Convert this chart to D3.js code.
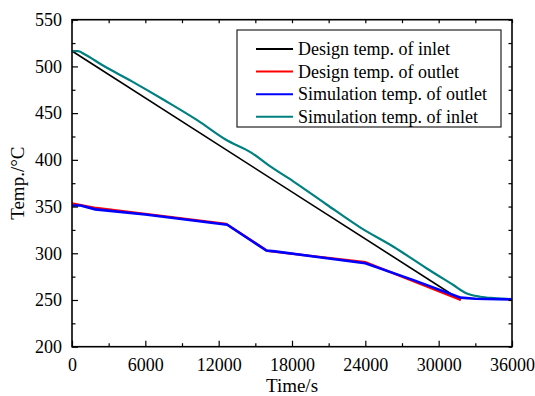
<!DOCTYPE html>
<html>
<head>
<meta charset="utf-8">
<script src="https://cdn.jsdelivr.net/npm/d3@7/dist/d3.min.js"></script>
<style>
  html, body { margin: 0; padding: 0; background: #fff; }
  svg { display: block; }
  text { font-family: "Liberation Serif", "Times New Roman", serif; fill: #000; }
</style>
</head>
<body>
<svg id="chart" width="535" height="396"></svg>
<script>
// Time (s) and temperature (°C) series
const designInletTime = [0, 31800];
const designInletTemp = [516.5, 250];

const designOutletTime = [0, 2000, 12600, 16000, 24000, 31800];
const designOutletTemp = [353.5, 348.5, 331.5, 302.5, 290.5, 250];

const simOutletTime = [0, 700, 1900, 6000, 12700, 15900, 16600, 24000, 28000, 31800, 33000, 36000];
const simOutletTemp = [351.2, 351.2, 347, 341.5, 330.5, 303, 302, 289.3, 271, 252.5, 251.3, 250.6];

const simInletTime = [0, 500, 1100, 2400, 4900, 7600, 10300, 12600, 14700, 16100, 18100, 20800, 23600, 26300, 29000, 31200, 32300, 33400, 34500, 36000];
const simInletTemp = [516.5, 516.3, 512.5, 502, 484, 463.5, 442, 421.5, 407.5, 394, 377, 352.5, 327.5, 307, 284, 266, 257, 253.5, 252, 251];

const seriesNames = ["Design temp. of inlet", "Design temp. of outlet", "Simulation temp. of outlet", "Simulation temp. of inlet"];
const seriesColors = ["#000000", "#ff0000", "#0000ff", "#008080"];

const xTicks = [0, 6000, 12000, 18000, 24000, 30000, 36000];
const yTicks = [200, 250, 300, 350, 400, 450, 500, 550];
const xMinorTicks = d3.range(3000, 36000, 6000);
const yMinorTicks = d3.range(225, 550, 50);

const serif = "'Liberation Serif', 'Times New Roman', serif";
const svg = d3.select("#chart");
const plotLeft = 72, plotRight = 512, plotTop = 19.7, plotBottom = 346.7;

const x = d3.scaleLinear().domain([0, 36000]).range([plotLeft, plotRight]);
const y = d3.scaleLinear().domain([200, 550]).range([plotBottom, plotTop]);

const zip = (ts, vs) => ts.map((t, i) => [t, vs[i]]);
const line = d3.line().x(d => x(d[0])).y(d => y(d[1]));

// plotted lines (drawn beneath the frame)
const plot = svg.append("g");
plot.append("path").datum(zip(designInletTime, designInletTemp))
  .attr("d", line).attr("fill", "none").attr("stroke", seriesColors[0]).attr("stroke-width", 1.6);
plot.append("path").datum(zip(simInletTime, simInletTemp))
  .attr("d", d3.line().x(d => x(d[0])).y(d => y(d[1])).curve(d3.curveMonotoneX))
  .attr("fill", "none").attr("stroke", seriesColors[3]).attr("stroke-width", 2.2);
plot.append("path").datum(zip(designOutletTime, designOutletTemp))
  .attr("d", line).attr("fill", "none").attr("stroke", seriesColors[1]).attr("stroke-width", 2.2);
plot.append("path").datum(zip(simOutletTime, simOutletTemp))
  .attr("d", line).attr("fill", "none").attr("stroke", seriesColors[2]).attr("stroke-width", 2.6);

// axes with inward ticks on all four sides
const axisStyle = g => {
  g.attr("font-family", serif).attr("font-size", 18);
  g.select(".domain").remove();
  g.selectAll("line").attr("stroke", "#000").attr("stroke-width", 1.2);
  g.selectAll("text").style("font-family", serif).style("font-size", "18px").attr("fill", "#000");
};

svg.append("g").attr("transform", `translate(0,${plotBottom})`)
  .call(d3.axisBottom(x).tickValues(xTicks).tickSize(-6).tickPadding(12).tickFormat(d3.format("d")))
  .call(axisStyle);
svg.append("g").attr("transform", `translate(0,${plotBottom})`)
  .call(d3.axisBottom(x).tickValues(xMinorTicks).tickSize(-3.5).tickFormat(""))
  .call(axisStyle);
svg.append("g").attr("transform", `translate(${plotLeft},0)`)
  .call(d3.axisLeft(y).tickValues(yTicks).tickSize(-6).tickPadding(10).tickFormat(d3.format("d")))
  .call(axisStyle);
svg.append("g").attr("transform", `translate(${plotLeft},0)`)
  .call(d3.axisLeft(y).tickValues(yMinorTicks).tickSize(-3.5).tickFormat(""))
  .call(axisStyle);
svg.append("g").attr("transform", `translate(0,${plotTop})`)
  .call(d3.axisTop(x).tickValues(xTicks.concat(xMinorTicks)).tickSize(-3.5).tickFormat(""))
  .call(axisStyle);
svg.append("g").attr("transform", `translate(${plotRight},0)`)
  .call(d3.axisRight(y).tickValues(yTicks.concat(yMinorTicks)).tickSize(-3.5).tickFormat(""))
  .call(axisStyle);

// frame
svg.append("rect").attr("x", plotLeft).attr("y", plotTop)
  .attr("width", plotRight - plotLeft).attr("height", plotBottom - plotTop)
  .attr("fill", "none").attr("stroke", "#000").attr("stroke-width", 1.6);

// axis titles
svg.append("text").attr("x", (plotLeft + plotRight) / 2).attr("y", 392)
  .attr("text-anchor", "middle").style("font-family", serif).style("font-size", "19px").text("Time/s");
svg.append("text").attr("transform", `translate(24,${(plotTop + plotBottom) / 2}) rotate(-90)`)
  .attr("text-anchor", "middle").style("font-family", serif).style("font-size", "19px").text("Temp./°C");

// legend
const legend = svg.append("g");
legend.append("rect").attr("x", 237).attr("y", 30).attr("width", 264).attr("height", 97)
  .attr("fill", "#fff").attr("stroke", "#222").attr("stroke-width", 1.2);
seriesNames.forEach((name, i) => {
  const ly = 49 + i * 22.6;
  legend.append("line").attr("x1", 256).attr("x2", 293).attr("y1", ly).attr("y2", ly)
    .attr("stroke", seriesColors[i]).attr("stroke-width", 2);
  legend.append("text").attr("x", 298).attr("y", ly + 6)
    .style("font-family", serif).style("font-size", "18px").text(name);
});
</script>
</body>
</html>
